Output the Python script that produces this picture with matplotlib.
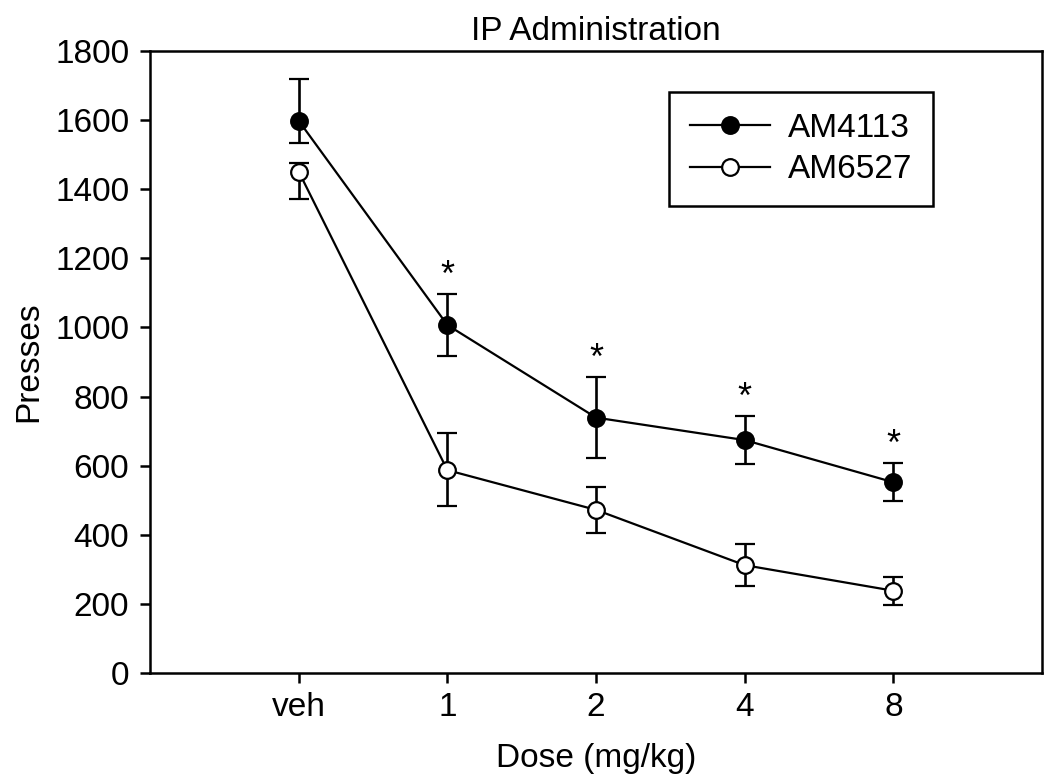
#!/usr/bin/env python

"""
    plot.py:
        - IP Administration dose-response (presses vs dose)
"""

import numpy as np
import matplotlib
matplotlib.use("Agg")
import matplotlib.pyplot as plt

plt.rcParams["font.family"] = ["Liberation Sans", "DejaVu Sans"]

################################################################################
# Data
################################################################################
doses = ["veh", "1", "2", "4", "8"]

am4113 = [1598, 1007, 739, 674, 552]
am4113_up = [120, 90, 118, 70, 56]
am4113_lo = [64, 90, 118, 69, 54]

am6527 = [1451, 587, 472, 312, 238]
am6527_up = [24, 107, 67, 61, 41]
am6527_lo = [80, 104, 68, 59, 41]

significant = [False, True, True, True, True]

FS = 24

################################################################################
# Figure
################################################################################
fig = plt.figure(figsize=(10.5, 7.84), dpi=100)
ax = fig.add_axes([0.1429, 0.1416, 0.8495, 0.7934])

x = np.arange(1, len(doses) + 1)

common = dict(color="k", linewidth=1.6, elinewidth=1.9, capsize=7, capthick=1.9,
              markersize=12, markeredgewidth=1.6)

eb1 = ax.errorbar(x, am4113, yerr=[am4113_lo, am4113_up], marker="o",
                  markerfacecolor="k", markeredgecolor="k", zorder=3, **common)
eb2 = ax.errorbar(x, am6527, yerr=[am6527_lo, am6527_up], marker="o",
                  markerfacecolor="white", markeredgecolor="k", zorder=3, **common)

# significance stars above the AM4113 error bars
for xi, yi, up, sig in zip(x, am4113, am4113_up, significant):
    if sig:
        ax.annotate("*", xy=(xi, yi + up), xytext=(0, 6), textcoords="offset points",
                    ha="center", va="baseline", fontsize=FS + 2)

################################################################################
# Axis formatting
################################################################################
ax.set_xlim(0, 6)
ax.set_ylim(0, 1800)
ax.set_xticks(x)
ax.set_xticklabels(doses)
ax.set_yticks(np.arange(0, 1801, 200))

for s in ax.spines.values():
    s.set_linewidth(1.8)

ax.tick_params(axis="both", direction="out", length=7, width=1.8, labelsize=FS)
ax.tick_params(axis="y", pad=8)
ax.tick_params(axis="x", pad=7)
ax.tick_params(top=False, right=False)

ax.set_xlabel("Dose (mg/kg)", fontsize=FS, labelpad=14)
ax.set_ylabel("Presses", fontsize=FS, labelpad=8)
ax.set_title("IP Administration", fontsize=FS, pad=8)

leg = ax.legend(handles=[eb1[0], eb2[0]], labels=["AM4113", "AM6527"],
                loc="upper right", bbox_to_anchor=(0.878, 0.934), fancybox=False,
                framealpha=1, edgecolor="k", fontsize=FS, handlelength=2.4,
                handletextpad=0.55, labelspacing=0.32, borderpad=0.62, borderaxespad=0)
leg.get_frame().set_linewidth(1.8)

plt.savefig("out.png", dpi=100)
plt.close()
